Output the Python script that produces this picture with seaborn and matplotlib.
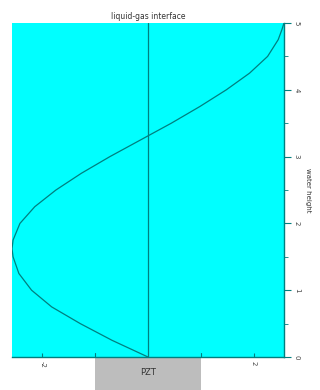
import matplotlib
matplotlib.use("Agg")
import matplotlib.pyplot as plt
import seaborn as sns
import pandas as pd
from matplotlib.patches import Rectangle
import matplotlib.transforms as mtransforms

# data
water_height = [0.0, 0.25, 0.5, 0.75, 1.0, 1.25, 1.5, 1.62, 1.75, 2.0, 2.25, 2.5,
                2.75, 3.0, 3.25, 3.5, 3.75, 4.0, 4.25, 4.5, 4.75, 4.9, 5.0]
displacement = [0.0, -0.68, -1.28, -1.82, -2.2, -2.44, -2.55, -2.57, -2.55, -2.42, -2.14, -1.74,
                -1.26, -0.72, -0.14, 0.44, 0.98, 1.48, 1.92, 2.26, 2.46, 2.53, 2.57]
y_ticks = [0, 1, 2, 3, 4, 5]
x_ticks = [-2, 2]
x_tick_labels = ["-2", "2"]
pzt_span = [-1, 1]

sns.set_style("white")
fig = plt.figure(figsize=(3.2, 3.9), dpi=100)
ax = fig.add_axes([0.0375, 0.0846, 0.85, 0.8564])
ax.set_facecolor("#00FFFF")

df = pd.DataFrame({"disp": displacement, "h": water_height})
line_color = "#007F7F"
sns.lineplot(data=df, x="disp", y="h", sort=False, orient="y", ax=ax,
             color=line_color, linewidth=0.9)
ax.axvline(0, color=line_color, linewidth=0.9)

ax.set_xlim(-2.57, 2.57)
ax.set_ylim(0, 5)
ax.yaxis.tick_right()
ax.yaxis.set_label_position("right")
ax.set_yticks(y_ticks)
ax.set_yticks([0.5, 1.5, 2.5, 3.5, 4.5], minor=True)
ax.set_yticklabels([str(v) for v in y_ticks], rotation=-90, fontsize=5, color="#444444",
                   va="center")
ax.set_xticks(x_ticks)
ax.set_xticklabels(x_tick_labels, rotation=-90, fontsize=5, color="#444444")
ax.tick_params(axis="y", which="major", length=5, width=0.8, color=line_color, pad=2,
               right=True, left=False)
ax.tick_params(axis="y", which="minor", length=3, width=0.6, color=line_color, right=True, left=False)
ax.tick_params(axis="x", which="major", length=3, width=0.8, color=line_color, pad=3,
               bottom=True, direction="in")
ax.set_xlabel("")
ax.set_ylabel("water height", rotation=-90, fontsize=5, color="#333333", labelpad=8)
ax.set_title("liquid-gas interface", fontsize=5.5, color="#333333", pad=3)

for s in ["left", "top"]:
    ax.spines[s].set_visible(False)
for s in ["right", "bottom"]:
    ax.spines[s].set_color(line_color)
    ax.spines[s].set_linewidth(1.0)

trans = mtransforms.blended_transform_factory(ax.transData, ax.transAxes)
rect = Rectangle((pzt_span[0], -0.12), pzt_span[1] - pzt_span[0], 0.12,
                 transform=trans, clip_on=False, facecolor="#BDBDBD",
                 edgecolor="none", zorder=0)
ax.add_patch(rect)
for xv in pzt_span:
    ax.plot([xv, xv], [0, 0.012], transform=trans, clip_on=False,
            color=line_color, linewidth=0.8)
ax.text(0, -0.045, "PZT", transform=trans, ha="center", va="center",
        fontsize=6, color="#333333")

fig.savefig("out.png", dpi=100)
